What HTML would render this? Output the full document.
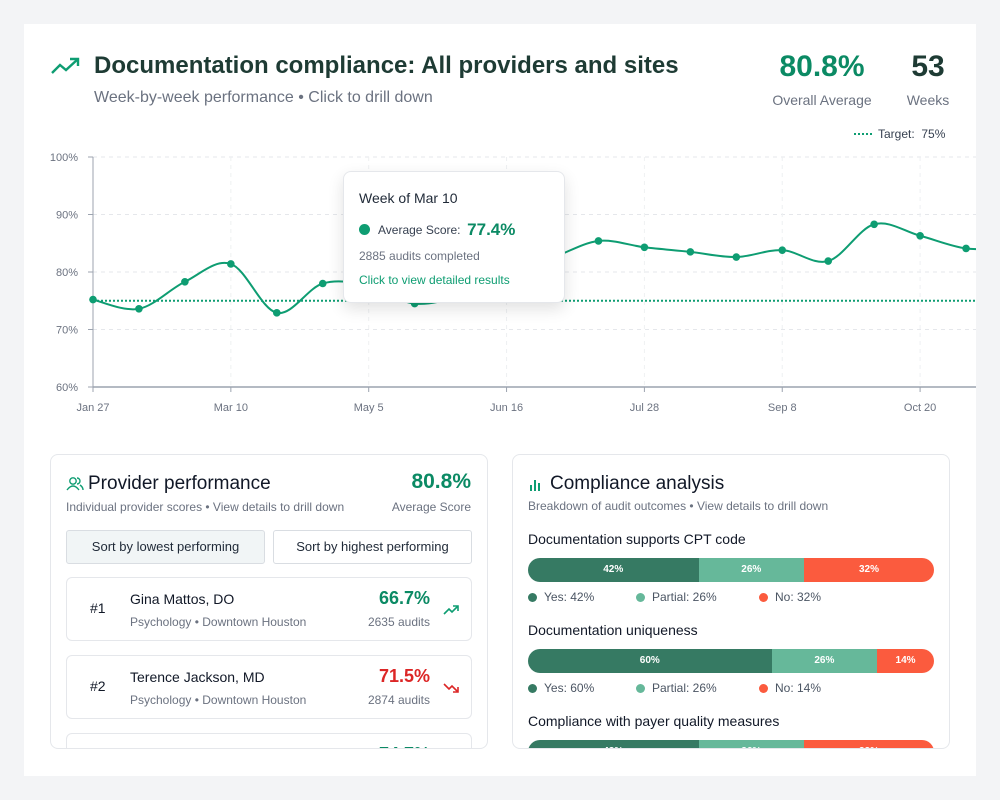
<!DOCTYPE html>
<html><head><meta charset="utf-8"><style>
*{box-sizing:border-box;margin:0;padding:0}
body{width:1000px;height:800px;background:#f3f4f6;font-family:"Liberation Sans",sans-serif;position:relative;overflow:hidden}
.abs{position:absolute}
#card{left:24px;top:24px;width:952px;height:752px;background:#fff}
.panel{background:#fff;border:1px solid #e5e7eb;border-radius:8px;overflow:hidden}
.row{position:absolute;left:15px;width:406px;height:64px;border:1px solid #e5e7eb;border-radius:6px;background:#fff}
.btn{position:absolute;top:75px;height:34px;border:1px solid #d9dde2;border-radius:3px;font-size:13px;color:#1f2937;text-align:center;line-height:32px}
.bar{position:absolute;left:15px;width:406px;height:24px;border-radius:12px;overflow:hidden;display:flex}
.bar div{height:24px;color:#fff;font-size:10px;font-weight:bold;text-align:center;line-height:24px}
.leg{position:absolute;font-size:12px;color:#4b5563}
.leg i{display:inline-block;width:9px;height:9px;border-radius:50%;margin-right:7px;vertical-align:-1px}
</style></head><body>
<div id="card" class="abs"></div>
<svg class="abs" style="left:50px;top:55px" width="32" height="22"><polyline points="2,18 10,10 16,15 28,4" fill="none" stroke="#0e9d72" stroke-width="2.4"/><polyline points="20,4 28,4 28,11" fill="none" stroke="#0e9d72" stroke-width="2.4"/></svg>
<div class="abs" style="left:94px;top:52px;font-size:24px;font-weight:bold;color:#1e3b34">Documentation compliance: All providers and sites</div>
<div class="abs" style="left:94px;top:89px;font-size:16px;color:#6b7280">Week-by-week performance • Click to drill down</div>
<div class="abs" style="left:762px;top:50px;width:120px;text-align:center;font-size:30px;font-weight:bold;color:#0b8a64">80.8%</div>
<div class="abs" style="left:762px;top:92px;width:120px;text-align:center;font-size:14px;color:#6b7280">Overall Average</div>
<div class="abs" style="left:890px;top:50px;width:76px;text-align:center;font-size:30px;font-weight:bold;color:#1e3b34">53</div>
<div class="abs" style="left:890px;top:92px;width:76px;text-align:center;font-size:14px;color:#6b7280">Weeks</div>
<div class="abs" style="left:854px;top:127px;font-size:12px;color:#374151"><span style="display:inline-block;width:18px;border-top:2px dotted #0e9d72;vertical-align:3px;margin-right:6px"></span>Target:&nbsp; 75%</div>
<svg id="chart" class="abs" style="left:0;top:0" width="1000" height="440"></svg>
<div class="abs" style="left:343px;top:171px;width:222px;height:132px;background:#fff;border:1px solid #e5e7eb;border-radius:8px;box-shadow:0 6px 16px rgba(0,0,0,.12)">
<div class="abs" style="left:15px;top:18px;font-size:14px;color:#1f2937">Week of Mar 10</div>
<div class="abs" style="left:15px;top:48px;font-size:12px;color:#374151"><span style="display:inline-block;width:11px;height:11px;border-radius:50%;background:#0e9d72;margin-right:8px;vertical-align:-1px"></span>Average Score:&nbsp; <b style="font-size:17px;color:#0b8a64;vertical-align:-1px">77.4%</b></div>
<div class="abs" style="left:15px;top:77px;font-size:12px;color:#6b7280">2885 audits completed</div>
<div class="abs" style="left:15px;top:101px;font-size:12px;color:#0e9d72">Click to view detailed results</div>
</div>

<div class="abs panel" style="left:50px;top:454px;width:438px;height:295px">
<svg class="abs" style="left:15px;top:21px" width="18" height="16"><circle cx="7" cy="5" r="3.2" fill="none" stroke="#0e9d72" stroke-width="1.4"/><path d="M1,14 q6,-8 12,0" fill="none" stroke="#0e9d72" stroke-width="1.4"/><path d="M11,2 a3,3 0 0 1 0,6 M14,9 q3,2 3,5" fill="none" stroke="#0e9d72" stroke-width="1.4"/></svg>
<div class="abs" style="left:37px;top:18px;font-size:19px;color:#111827">Provider performance</div>
<div class="abs" style="left:15px;top:45px;font-size:12px;color:#6b7280">Individual provider scores • View details to drill down</div>
<div class="abs" style="right:16px;top:15px;font-size:21px;font-weight:bold;color:#0b8a64">80.8%</div>
<div class="abs" style="right:16px;top:45px;font-size:12px;color:#6b7280">Average Score</div>
<div class="btn" style="left:15px;width:199px;background:#f1f5f6">Sort by lowest performing</div>
<div class="btn" style="left:222px;width:199px;background:#fff">Sort by highest performing</div>
<div class="row" style="top:122px">
<div class="abs" style="left:23px;top:22px;font-size:14px;color:#111827">#1</div>
<div class="abs" style="left:63px;top:13px;font-size:14px;color:#111827">Gina Mattos, DO</div>
<div class="abs" style="left:63px;top:37px;font-size:12px;color:#6b7280">Psychology • Downtown Houston</div>
<div class="abs" style="right:41px;top:10px;font-size:18px;font-weight:bold;color:#0b8a64">66.7%</div>
<div class="abs" style="right:41px;top:37px;font-size:12px;color:#6b7280">2635 audits</div>
<svg class="abs" style="right:12px;top:26px" width="16" height="12"><polyline points="1,10 6,5 9,8 15,2" fill="none" stroke="#0e9d72" stroke-width="1.6"/><polyline points="10,2 15,2 15,7" fill="none" stroke="#0e9d72" stroke-width="1.6"/></svg>
</div>
<div class="row" style="top:200px">
<div class="abs" style="left:23px;top:22px;font-size:14px;color:#111827">#2</div>
<div class="abs" style="left:63px;top:13px;font-size:14px;color:#111827">Terence Jackson, MD</div>
<div class="abs" style="left:63px;top:37px;font-size:12px;color:#6b7280">Psychology • Downtown Houston</div>
<div class="abs" style="right:41px;top:10px;font-size:18px;font-weight:bold;color:#dc2626">71.5%</div>
<div class="abs" style="right:41px;top:37px;font-size:12px;color:#6b7280">2874 audits</div>
<svg class="abs" style="right:12px;top:26px" width="16" height="12"><polyline points="1,2 6,7 9,4 15,10" fill="none" stroke="#dc2626" stroke-width="1.6"/><polyline points="10,10 15,10 15,5" fill="none" stroke="#dc2626" stroke-width="1.6"/></svg>
</div>
<div class="row" style="top:278px">
<div class="abs" style="left:63px;top:13px;font-size:14px;color:#9ca3af">Pamela Chavez, MD</div>
<div class="abs" style="right:41px;top:10px;font-size:18px;font-weight:bold;color:#0b8a64">74.7%</div>
</div>
</div>

<div class="abs panel" style="left:512px;top:454px;width:438px;height:295px">
<svg class="abs" style="left:17px;top:24px" width="12" height="12"><rect x="0" y="6" width="2" height="6" fill="#0e9d72"/><rect x="4" y="1" width="2" height="11" fill="#0e9d72"/><rect x="8" y="4" width="2" height="8" fill="#0e9d72"/></svg>
<div class="abs" style="left:37px;top:18px;font-size:19px;color:#111827">Compliance analysis</div>
<div class="abs" style="left:15px;top:44px;font-size:12px;color:#6b7280">Breakdown of audit outcomes • View details to drill down</div>
<div id="bars"></div>
</div>

<script>
const categories=["Jan 27","Feb 10","Feb 24","Mar 10","Mar 24","Apr 7","Apr 21","May 5","May 19","Jun 2","Jun 16","Jun 30","Jul 14","Jul 28","Aug 11","Aug 25","Sep 8","Sep 22","Oct 6","Oct 20","Nov 3"];
const scores=[75.2,73.6,78.3,81.4,72.9,78.0,77.6,74.5,76.0,80.0,82.5,85.4,84.3,83.5,82.6,83.8,81.9,88.3,86.3,84.1,84.1];
const yTicks=[60,70,80,90,100];
const xTickLabels=["Jan 27","Mar 10","May 5","Jun 16","Jul 28","Sep 8","Oct 20"];
const xTickIdx=[0,3,6,9,12,15,18];
const target=75;
const metricNames=["Documentation supports CPT code","Documentation uniqueness","Compliance with payer quality measures"];
const yesVals=[42,60,42];
const partialVals=[26,26,26];
const noVals=[32,14,32];

const NS="http://www.w3.org/2000/svg";
const svg=document.getElementById('chart');
const X0=93,STEP=45.9*1.5,Y0=387,Y1=157;
const xs=i=>X0+i*45.95;
const ys=v=>Y0-(v-60)/40*(Y0-Y1);
function mk(t,a,p){const e=document.createElementNS(NS,t);for(const k in a)e.setAttribute(k,a[k]);(p||svg).appendChild(e);return e;}
const clip=mk('clipPath',{id:'cp'});mk('rect',{x:80,y:140,width:896,height:260},clip);
yTicks.forEach(v=>{
  const g=mk('line',{x1:93,x2:976,y1:ys(v),y2:ys(v),stroke:'#e5e7eb','stroke-dasharray':'4 4'});
  
  mk('line',{x1:88,x2:93,y1:ys(v),y2:ys(v),stroke:'#9ca3af'});
  const t=mk('text',{x:78,y:ys(v)+4,'text-anchor':'end','font-size':11,fill:'#6b7280'});t.textContent=v+'%';
  
});
xTickIdx.forEach((ix,k)=>{
  const x=xs(ix);
  const g=mk('line',{x1:x,x2:x,y1:157,y2:387,stroke:'#eef0f2','stroke-dasharray':'4 4'});
  
  mk('line',{x1:x,x2:x,y1:387,y2:392,stroke:'#9ca3af'});
  const t=mk('text',{x:x,y:411,'text-anchor':'middle','font-size':11,fill:'#6b7280'});t.textContent=xTickLabels[k];
  
});
mk('line',{x1:93,x2:93,y1:157,y2:387,stroke:'#9ca3af'});
mk('line',{x1:93,x2:976,y1:387,y2:387,stroke:'#9ca3af','stroke-width':1.5});
const tl=mk('line',{x1:93,x2:976,y1:ys(target),y2:ys(target),stroke:'#0e9d72','stroke-width':2,'stroke-dasharray':'2 2'});

const P=scores.map((v,i)=>[xs(i),ys(v)]);
let d='M'+P[0];
for(let i=0;i<P.length-1;i++){const p0=P[i-1]||P[i],p1=P[i],p2=P[i+1],p3=P[i+2]||p2;
 d+=` C${p1[0]+(p2[0]-p0[0])/6},${p1[1]+(p2[1]-p0[1])/6} ${p2[0]-(p3[0]-p1[0])/6},${p2[1]-(p3[1]-p1[1])/6} ${p2[0]},${p2[1]}`;}
const line=mk('path',{d:d,fill:'none',stroke:'#0e9d72','stroke-width':2,'clip-path':'url(#cp)'});

P.forEach((p,i)=>{if(p[0]>976)return;const c=mk('circle',{cx:p[0],cy:p[1],r:3.8,fill:'#0e9d72'});
 });

const bars=document.getElementById('bars');
metricNames.forEach((n,i)=>{
  const top=76+i*91;
  const h=document.createElement('div');h.className='abs';h.style.cssText=`left:15px;top:${top}px;font-size:14px;color:#111827`;h.textContent=n;
  bars.appendChild(h);
  const b=document.createElement('div');b.className='bar';b.style.top=(top+27)+'px';
  
  [[yesVals[i],'#367a63'],[partialVals[i],'#66b89a'],[noVals[i],'#fb5b3e']].forEach(([v,c])=>{
    const s=document.createElement('div');s.style.width=v+'%';s.style.background=c;s.textContent=v+'%';
    b.appendChild(s);});
  bars.appendChild(b);
  [['Yes',yesVals[i],'#367a63',15],['Partial',partialVals[i],'#66b89a',123],['No',noVals[i],'#fb5b3e',246]].forEach(([l,v,c,x])=>{
    const e=document.createElement('div');e.className='leg';e.style.left=x+'px';e.style.top=(top+59)+'px';
    e.innerHTML=`<i style="background:${c}"></i>${l}: ${v}%`;
    bars.appendChild(e);});
});
</script>
</body></html>
